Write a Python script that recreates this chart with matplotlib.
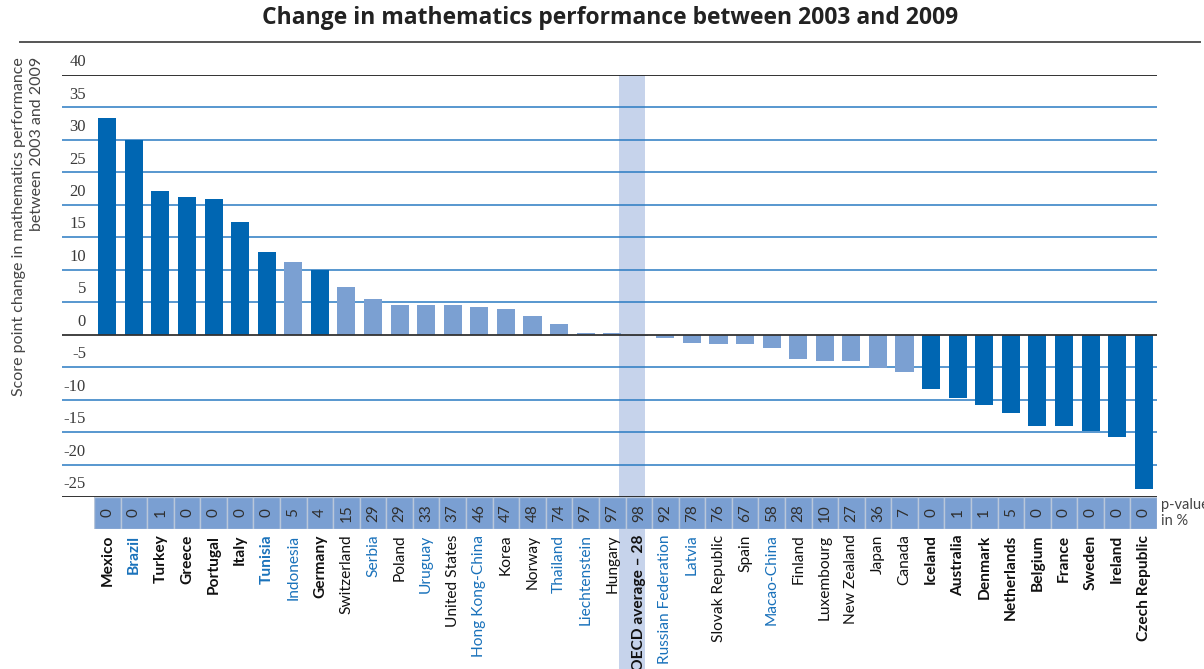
import matplotlib
matplotlib.use("Agg")
import matplotlib.pyplot as plt
import matplotlib.transforms as mtransforms
from matplotlib.patches import Rectangle
from matplotlib.lines import Line2D

# ── Data ──────────────────────────────────────────────────────────────
countries = [
    "Mexico", "Brazil", "Turkey", "Greece", "Portugal", "Italy", "Tunisia",
    "Indonesia", "Germany", "Switzerland", "Serbia", "Poland", "Uruguay",
    "United States", "Hong Kong-China", "Korea", "Norway", "Thailand",
    "Liechtenstein", "Hungary", "OECD average \u2013 28", "Russian Federation",
    "Latvia", "Slovak Republic", "Spain", "Macao-China", "Finland",
    "Luxembourg", "New Zealand", "Japan", "Canada", "Iceland", "Australia",
    "Denmark", "Netherlands", "Belgium", "France", "Sweden", "Ireland",
    "Czech Republic",
]
score_change = [
    33.3, 30.0, 22.1, 21.2, 20.9, 17.3, 12.8, 11.2, 10.0, 7.4,
    5.5, 4.5, 4.5, 4.5, 4.3, 4.0, 2.9, 1.6, 0.3, 0.3,
    -0.2, -0.5, -1.3, -1.4, -1.4, -2.0, -3.8, -4.1, -4.1, -5.1,
    -5.7, -8.4, -9.8, -10.9, -12.0, -14.0, -14.0, -14.8, -15.7, -23.7,
]
p_values = [
    0, 0, 1, 0, 0, 0, 0, 5, 4, 15, 29, 29, 33, 37, 46, 47, 48, 74, 97, 97,
    98, 92, 78, 76, 67, 58, 28, 10, 27, 36, 7, 0, 1, 1, 5, 0, 0, 0, 0, 0,
]
significant = [
    "Mexico", "Brazil", "Turkey", "Greece", "Portugal", "Italy", "Tunisia",
    "Germany", "Iceland", "Australia", "Denmark", "Netherlands", "Belgium",
    "France", "Sweden", "Ireland", "Czech Republic",
]
partners = [
    "Brazil", "Tunisia", "Indonesia", "Serbia", "Uruguay", "Hong Kong-China",
    "Thailand", "Liechtenstein", "Russian Federation", "Latvia", "Macao-China",
]
average_label = "OECD average \u2013 28"
y_ticks = [40, 35, 30, 25, 20, 15, 10, 5, 0, -5, -10, -15, -20, -25]

# ── Style ─────────────────────────────────────────────────────────────
DARK = "#0066b2"
LIGHT = "#7ba0d2"
CELL = "#7a9fd2"
BAND = "#c6d3eb"
GRID = "#2a7bc2"
BLUE_TXT = "#1a72bb"
W, H = 1204, 669


def fx(px):
    return px / W


def fy(py):
    return 1 - py / H


plt.rcParams["font.family"] = ["Lato", "DejaVu Sans"]

fig = plt.figure(figsize=(W / 100, H / 100), dpi=100)

# main plot area: x 62..1157 px, y 75..497 px
ax = fig.add_axes([fx(62), fy(497), fx(1157 - 62), (497 - 75) / H])
ax.set_facecolor("none")
ax.set_zorder(2)
n = len(countries)
xs = list(range(n))
left_lim = -0.5 - 32 / 26.6
ax.set_xlim(left_lim, n - 0.5)
ax.set_ylim(-25, 40)
for s in ax.spines.values():
    s.set_visible(False)
ax.set_xticks([])
ax.set_yticks([])

for v in y_ticks:
    if v in (40, -25):
        ax.axhline(v, color="#222222", lw=1.3, zorder=1)
    elif v != 0:
        ax.axhline(v, color=GRID, lw=1.1, zorder=1)
    ax.annotate(str(v), xy=(24 / (1157 - 62), v),
                xycoords=("axes fraction", "data"),
                xytext=(0, 3.5), textcoords="offset points",
                ha="right", va="bottom", fontsize=12,
                family="Liberation Serif", color="#3a3a3a")

colors = [DARK if c in significant else LIGHT for c in countries]
ax.bar(xs, score_change, width=0.68, color=colors, zorder=2)
ax.axhline(0, color="#333333", lw=1.3, zorder=3)

# p-value row: x 94..1157 px, y 497..529 px
pax = fig.add_axes([fx(94), fy(529), fx(1157 - 94), 32 / H])
pax.set_zorder(2)
pax.set_xlim(-0.5, n - 0.5)
pax.set_ylim(0, 1)
pax.axis("off")
pax.bar(xs, [1] * n, width=1.0, bottom=0, color=CELL,
        edgecolor="#b9c7da", linewidth=1.0, zorder=1)
for i, p in enumerate(p_values):
    pax.text(i, 0.5, str(p), rotation=90, ha="center", va="center",
             fontsize=11, color="#2f2f2f", zorder=3)
pax.text(1.0 + 4 / (1157 - 94), 0.5, "p-value\nin %", transform=pax.transAxes,
         ha="left", va="center", fontsize=10.5, color="#444444",
         linespacing=1.1)

# country labels below the p-value row
for i, c in enumerate(countries):
    col = BLUE_TXT if c in partners else "#111111"
    wt = "bold" if (c in significant or c == average_label) else "normal"
    pax.annotate(c, xy=(i, 0), xycoords="data", xytext=(0, -4),
                 textcoords="offset points", rotation=90, ha="center",
                 va="top", fontsize=11.2, color=col, fontweight=wt)

# OECD average shaded band (behind gridlines, down to the bottom edge)
avg_i = countries.index(average_label)
trans = mtransforms.blended_transform_factory(ax.transData, fig.transFigure)
band = Rectangle((avg_i - 0.75, 0), 1.0, fy(75), transform=trans,
                 facecolor=BAND, edgecolor="none", zorder=1)
fig.add_artist(band)

# rule under the title
fig.add_artist(Line2D([fx(20), fx(1200)], [fy(42), fy(42)],
                      color="#555555", lw=1.4))

fig.text(fx(610), fy(18), "Change in mathematics performance between 2003 and 2009",
         ha="center", va="center", fontsize=16.5, fontweight="bold",
         color="#222222", family=["Open Sans", "DejaVu Sans"])

fig.text(fx(28), fy(57),
         "Score point change in mathematics performance\nbetween 2003 and 2009",
         rotation=90, ha="center", va="top", multialignment="right",
         fontsize=11.5, color="#444444", linespacing=1.3)

fig.savefig("out.png", dpi=100)
